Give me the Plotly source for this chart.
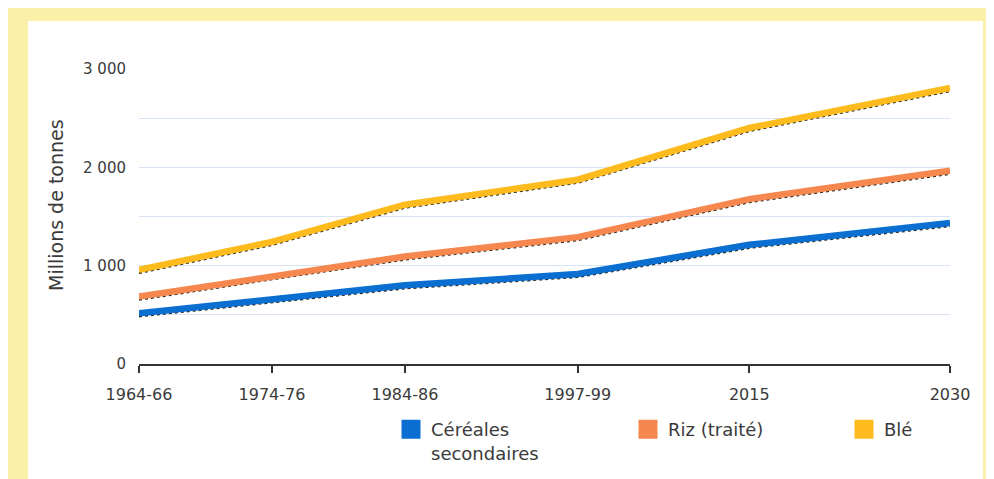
import plotly.graph_objects as go

# ---- data ----
periods = ["1964-66", "1974-76", "1984-86", "1997-99", "2015", "2030"]
x_pos = [0, 1, 2, 3.3, 4.59, 6.1]          # uneven spacing of the periods on the axis
coarse_grains = [516, 657, 800, 916, 1212, 1433]     # Céréales secondaires (cumulative level)
rice = [685, 893, 1093, 1290, 1677, 1965]            # Riz (traité) (cumulative level)
wheat = [957, 1242, 1620, 1874, 2400, 2807]          # Blé (cumulative level)
series_names = ["Céréales<br>secondaires", "Riz (traité)", "Blé"]
colors = ["#0A6FD0", "#F5874F", "#FDBB1E"]
y_ticks = [0, 1000, 2000, 3000]

SHADOW = 32  # shadow offset in data units
FONT = "DejaVu Sans, Verdana, sans-serif"
TXT = "#3a3a3a"

fig = go.Figure()
legends = ["legend", "legend2", "legend3"]
for vals, name, col, lg in zip([coarse_grains, rice, wheat], series_names, colors, legends):
    fig.add_trace(go.Scatter(x=x_pos, y=[v - SHADOW for v in vals], mode="lines",
                             line=dict(color="#2a2418", width=2, dash="dot"),
                             showlegend=False, hoverinfo="skip"))
    fig.add_trace(go.Scatter(x=x_pos, y=vals, mode="lines",
                             line=dict(color=col, width=6.5), showlegend=False, name=name))
    fig.add_trace(go.Scatter(x=[None], y=[None], mode="markers", name=name, legend=lg,
                             marker=dict(symbol="square", size=16, color=col,
                                         line=dict(color=col, width=3))))

# page offset of the figure (body margin)
OFF = 8
W, H = 994 - OFF, 479 - OFF
L, T = 139 - OFF, 69 - OFF
R = W - (950 - OFF)
B = H - (364 - OFF)
pw, ph = W - L - R, H - T - B
def px(x): return (x - OFF - L) / pw      # page pixel -> paper
def py(y): return (H - B - (y - OFF)) / ph

shapes = [
    dict(type="rect", xref="paper", yref="paper", x0=px(8), x1=px(1000), y0=py(8), y1=py(490),
         fillcolor="#FBF0A8", line=dict(width=0), layer="below"),
    dict(type="rect", xref="paper", yref="paper", x0=px(28), x1=px(983), y0=py(21), y1=py(490),
         fillcolor="white", line=dict(width=0), layer="below"),
]

leg_common = dict(orientation="h", xanchor="left", yanchor="top", valign="top",
                  bgcolor="rgba(0,0,0,0)", font=dict(family=FONT, size=18, color=TXT))
fig.update_layout(
    width=W, height=H,
    margin=dict(l=L, r=R, t=T, b=B, autoexpand=False),
    paper_bgcolor="white", plot_bgcolor="rgba(0,0,0,0)",
    separators=", ",
    shapes=shapes,
    font=dict(family=FONT, color=TXT),
    legend=dict(x=px(391), y=py(411), **leg_common),
    legend2=dict(x=px(628), y=py(411), **leg_common),
    legend3=dict(x=px(844), y=py(411), **leg_common),
    annotations=[dict(text="Millions de tonnes", textangle=-90, xref="paper", yref="paper",
                      x=px(56), y=py(205), xanchor="center", yanchor="middle", showarrow=False,
                      font=dict(family=FONT, size=19, color=TXT))],
    xaxis=dict(range=[x_pos[0], x_pos[-1]], tickvals=x_pos, ticktext=periods,
               showgrid=False, zeroline=False, showline=True, linecolor="#333", linewidth=1.5,
               ticks="outside", ticklen=7, tickcolor="#333", tickwidth=1.5,
               ticklabelstandoff=8,
               tickfont=dict(family=FONT, size=16, color=TXT), fixedrange=True),
    yaxis=dict(range=[0, 3000], tickvals=y_ticks, tickformat=",d",
               showgrid=True, gridcolor="#D8E3F6", gridwidth=1.2, zeroline=False,
               minor=dict(dtick=500, showgrid=True, gridcolor="#D8E3F6", gridwidth=1.2),
               ticks="", ticklabelstandoff=12,
               tickfont=dict(family=FONT, size=15, color=TXT)),
)

fig.write_html("out.html")
